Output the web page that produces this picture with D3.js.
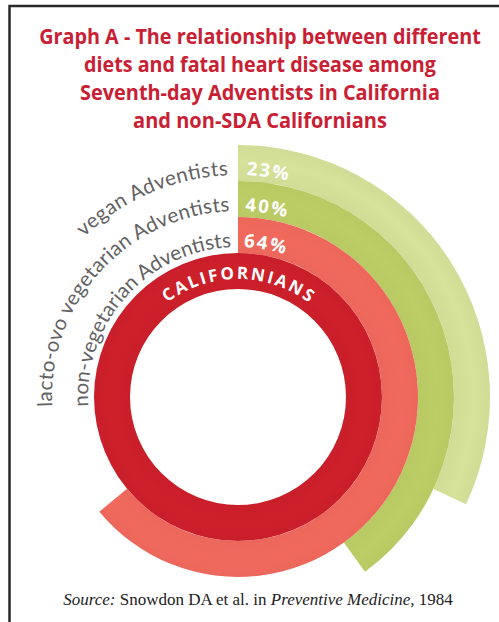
<!DOCTYPE html>
<html>
<head>
<meta charset="utf-8">
<script src="https://cdn.jsdelivr.net/npm/d3@7"></script>
<style>
  html, body { margin: 0; padding: 0; background: #fff; }
  svg { display: block; }
</style>
</head>
<body>
<svg id="chart" width="499" height="622"></svg>
<script>
// groups from outer ring to inner ring
const groups = ['vegan Adventists', 'lacto-ovo vegetarian Adventists', 'non-vegetarian Adventists', 'CALIFORNIANS'];
const pctLabels = ['23%', '40%', '64%'];
// share of the full circle each ring sweeps, as drawn (the vegan ring is drawn longer than its 23% label)
const sweep = [32, 40, 64, 100];
const ringColors = ['#d1dc96', '#b9c963', '#ec675b', '#c91f2a'];
const titleLines = [
  'Graph A - The relationship between different',
  'diets and fatal heart disease among',
  'Seventh-day Adventists in California',
  'and non-SDA Californians'
];

const width = 499, height = 622;
const cx = 238, cy = 397;

const svg = d3.select('#chart');
const defs = svg.append('defs');

// frame (only top and left edges show)
svg.append('path')
  .attr('d', 'M9.5,' + height + 'V6H' + width)
  .attr('fill', 'none')
  .attr('stroke', '#2a2a2a')
  .attr('stroke-width', 2.5);

// title, squeezed horizontally to the condensed width of the original
const titleLen = [442, 352, 360, 254];
svg.append('g')
  .selectAll('text')
  .data(titleLines)
  .join('text')
  .attr('text-anchor', 'middle')
  .attr('font-family', '"Open Sans", sans-serif')
  .attr('font-weight', 'bold')
  .attr('font-size', 21)
  .attr('fill', '#c92033')
  .text(d => d)
  .attr('transform', function(d, i) {
    const sx = titleLen[i] / this.getComputedTextLength();
    return 'translate(260,' + (44 + i * 28) + ') scale(' + sx + ',1)';
  });

const angle = d3.scaleLinear().domain([0, 100]).range([0, 2 * Math.PI]);
const band = d3.scaleBand().domain(groups).range([252, 108]);
const outerR = 252;

const g = svg.append('g').attr('transform', 'translate(' + cx + ',' + cy + ')');

const arc = d3.arc()
  .innerRadius(d => band(d.name))
  .outerRadius(d => band(d.name) + band.bandwidth())
  .startAngle(0)
  .endAngle(d => angle(d.sweep));

const rings = groups.map((name, i) => ({name, sweep: sweep[i], color: ringColors[i], pct: pctLabels[i]}));

// faint glossy stripe along each ring
rings.forEach((d, i) => {
  const r0 = band(d.name), r1 = r0 + band.bandwidth();
  const lg = defs.append('radialGradient')
    .attr('id', 'gloss' + i)
    .attr('gradientUnits', 'userSpaceOnUse')
    .attr('cx', 0).attr('cy', 0).attr('r', outerR);
  const c = d3.color(d.color);
  [[r0, c], [r0 + band.bandwidth() * 0.55, c.brighter(0.06)], [r1, c]].forEach(s => {
    lg.append('stop').attr('offset', s[0] / outerR).attr('stop-color', s[1].formatHex());
  });
});

g.selectAll('path.ring')
  .data(rings)
  .join('path')
  .attr('class', 'ring')
  .attr('d', arc)
  .attr('fill', (d, i) => 'url(#gloss' + i + ')');

// circular guide path for text, angles measured clockwise from 12 o'clock
function arcPath(r, a0, a1) {
  const p = d3.path();
  p.arc(0, 0, r, a0 - Math.PI / 2, a1 - Math.PI / 2);
  return p.toString();
}
const deg = Math.PI / 180;

const labelRings = rings.slice(0, 3);

labelRings.forEach((d, i) => {
  const r = band(d.name) + 6;
  defs.append('path').attr('id', 'lab' + i).attr('d', arcPath(r, -120 * deg, -2.6 * deg));
  defs.append('path').attr('id', 'pct' + i).attr('d', arcPath(r, 2.2 * deg, 60 * deg));
});

// group names, ending just left of 12 o'clock
const nameLen = [160, 293, 238];
g.selectAll('text.name')
  .data(labelRings)
  .join('text')
  .attr('class', 'name')
  .attr('font-family', 'Lato, "Open Sans", sans-serif')
  .attr('font-size', 20.5)
  .attr('fill', '#626262')
  .append('textPath')
  .attr('href', (d, i) => '#lab' + i)
  .attr('startOffset', '100%')
  .attr('text-anchor', 'end')
  .attr('textLength', (d, i) => nameLen[i])
  .text(d => d.name);

// percentages inside each band
g.selectAll('text.pct')
  .data(labelRings)
  .join('text')
  .attr('class', 'pct')
  .attr('font-family', '"Open Sans", sans-serif')
  .attr('font-weight', 'bold')
  .attr('font-size', 18.5)
  .attr('letter-spacing', 1.8)
  .attr('fill', '#fff')
  .append('textPath')
  .attr('href', (d, i) => '#pct' + i)
  .text(d => d.pct);

// CALIFORNIANS on the inner ring
const inner = rings[3];
defs.append('path').attr('id', 'calif').attr('d', arcPath(band(inner.name) + 10, -90 * deg, 90 * deg));
g.append('text')
  .attr('font-family', '"Open Sans", sans-serif')
  .attr('font-weight', 'bold')
  .attr('font-size', 17)
  .attr('fill', '#fff')
  .append('textPath')
  .attr('href', '#calif')
  .attr('startOffset', '50%')
  .attr('text-anchor', 'middle')
  .attr('textLength', 152)
  .text(inner.name);

// source line
const src = svg.append('text')
  .attr('x', 258)
  .attr('y', 605)
  .attr('text-anchor', 'middle')
  .attr('font-family', '"Liberation Serif", "Times New Roman", serif')
  .attr('font-size', 17)
  .attr('fill', '#222');
src.append('tspan').attr('font-style', 'italic').text('Source:');
src.append('tspan').text(' Snowdon DA et al. in ');
src.append('tspan').attr('font-style', 'italic').text('Preventive Medicine,');
src.append('tspan').text(' 1984');
</script>
</body>
</html>
